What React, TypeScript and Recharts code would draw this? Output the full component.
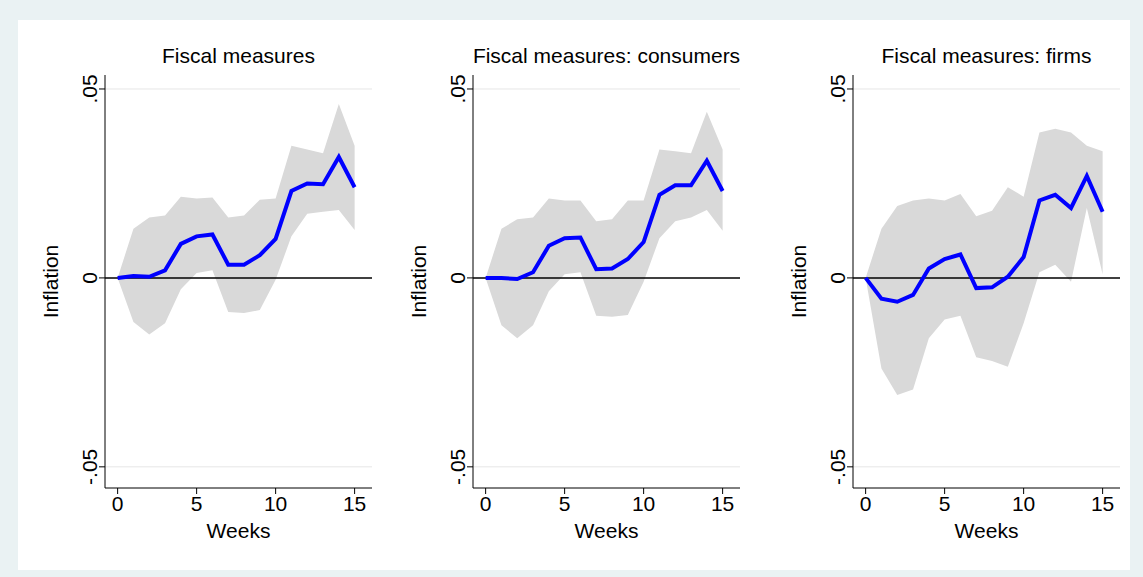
import React from 'react';
import { ComposedChart, Area, Line, XAxis, YAxis, ReferenceLine, CartesianGrid } from 'recharts';

const weeks = [0,1,2,3,4,5,6,7,8,9,10,11,12,13,14,15];
const titles = ['Fiscal measures', 'Fiscal measures: consumers', 'Fiscal measures: firms'];
const est1 = [0,0.0005,0.0003,0.002,0.009,0.011,0.0115,0.0035,0.0035,0.006,0.0103,0.023,0.025,0.0248,0.032,0.024];
const hi1 = [0,0.013,0.016,0.0165,0.0215,0.021,0.0213,0.016,0.0165,0.0207,0.021,0.035,0.034,0.033,0.046,0.035];
const lo1 = [0,-0.0117,-0.015,-0.012,-0.003,0.0013,0.002,-0.009,-0.0093,-0.0085,-0.0005,0.011,0.017,0.0175,0.018,0.0127];
const est2 = [0,0,-0.0003,0.0015,0.0085,0.0105,0.0107,0.0023,0.0025,0.005,0.0095,0.022,0.0245,0.0245,0.031,0.023];
const hi2 = [0,0.013,0.0155,0.016,0.021,0.0205,0.0205,0.015,0.0155,0.0205,0.0205,0.034,0.0335,0.033,0.044,0.034];
const lo2 = [0,-0.0125,-0.016,-0.0125,-0.0035,0.001,0.0015,-0.01,-0.0103,-0.0098,-0.001,0.0105,0.015,0.016,0.018,0.0125];
const est3 = [0,-0.0055,-0.0063,-0.0045,0.0025,0.005,0.0062,-0.0027,-0.0025,0.0003,0.0055,0.0205,0.022,0.0185,0.027,0.0175];
const hi3 = [0,0.013,0.019,0.0205,0.021,0.0205,0.0222,0.0163,0.0178,0.024,0.0215,0.0385,0.0395,0.0385,0.035,0.0335];
const lo3 = [0,-0.024,-0.031,-0.0295,-0.016,-0.011,-0.01,-0.021,-0.022,-0.0235,-0.012,0.0015,0.0035,-0.001,0.0185,0.001];
const yTicks = [-0.05, 0, 0.05];
const yTickLabels: Record<string, string> = { '-0.05': '-.05', '0': '0', '0.05': '.05' };
const xTicks = [0, 5, 10, 15];

const panels = [
  { est: est1, hi: hi1, lo: lo1, left: 105 },
  { est: est2, hi: hi2, lo: lo2, left: 473 },
  { est: est3, hi: hi3, lo: lo3, left: 853 },
];

const font = 'Arial, "Liberation Sans", sans-serif';
const FS = 21;

const YTick = (props: any) => {
  const { x, y, payload } = props;
  return (
    <text x={x} y={y} transform={`rotate(-90 ${x} ${y})`} textAnchor="middle" fontSize={FS} fill="#000" fontFamily={font}>
      {yTickLabels[String(payload.value)]}
    </text>
  );
};

export default function App() {
  return (
    <div style={{ position: 'absolute', left: 0, top: 0, width: 1143, height: 577, background: '#EAF2F3', fontFamily: font }}>
      <div style={{ position: 'absolute', left: 18, top: 20, width: 1112, height: 550, background: '#fff' }} />
      {panels.map((p, i) => {
        const data = weeks.map((w, k) => ({ w, est: p.est[k], band: [p.lo[k], p.hi[k]] }));
        const plotW = 267;
        return (
          <div key={i} style={{ position: 'absolute', left: p.left - 70, top: 0 }}>
            <div style={{ position: 'absolute', left: 20, width: plotW + 100, top: 44, textAlign: 'center', fontSize: FS, whiteSpace: 'nowrap' }}>{titles[i]}</div>
            <ComposedChart width={70 + plotW + 10} height={577} data={data} margin={{ top: 75, bottom: 39, left: 0, right: 10 }}>
              <CartesianGrid horizontal vertical={false} stroke="#e6e6e6" horizontalValues={[-0.05, 0.05]} />
              <XAxis dataKey="w" type="number" domain={[-0.8, 16.1]} ticks={xTicks} height={50} stroke="#000"
                tick={{ fill: '#000', fontSize: FS, fontFamily: font }} tickSize={6} allowDataOverflow
                label={{ value: 'Weeks', position: 'insideBottom', offset: 0, fill: '#000', fontSize: FS, fontFamily: font }} />
              <YAxis type="number" domain={[-0.0556, 0.0537]} ticks={yTicks} width={70} stroke="#000" tick={<YTick />} tickSize={6} allowDataOverflow
                label={{ value: 'Inflation', angle: -90, position: 'insideLeft', offset: 16, fill: '#000', fontSize: FS, fontFamily: font, style: { textAnchor: 'middle' } }} />
              <Area dataKey="band" type="linear" stroke="none" fill="#d9d9d9" fillOpacity={1} isAnimationActive={false} />
              <ReferenceLine y={0} stroke="#000" strokeWidth={1.5} />
              <Line dataKey="est" type="linear" stroke="#0000ff" strokeWidth={4} dot={false} isAnimationActive={false} />
            </ComposedChart>
          </div>
        );
      })}
    </div>
  );
}
